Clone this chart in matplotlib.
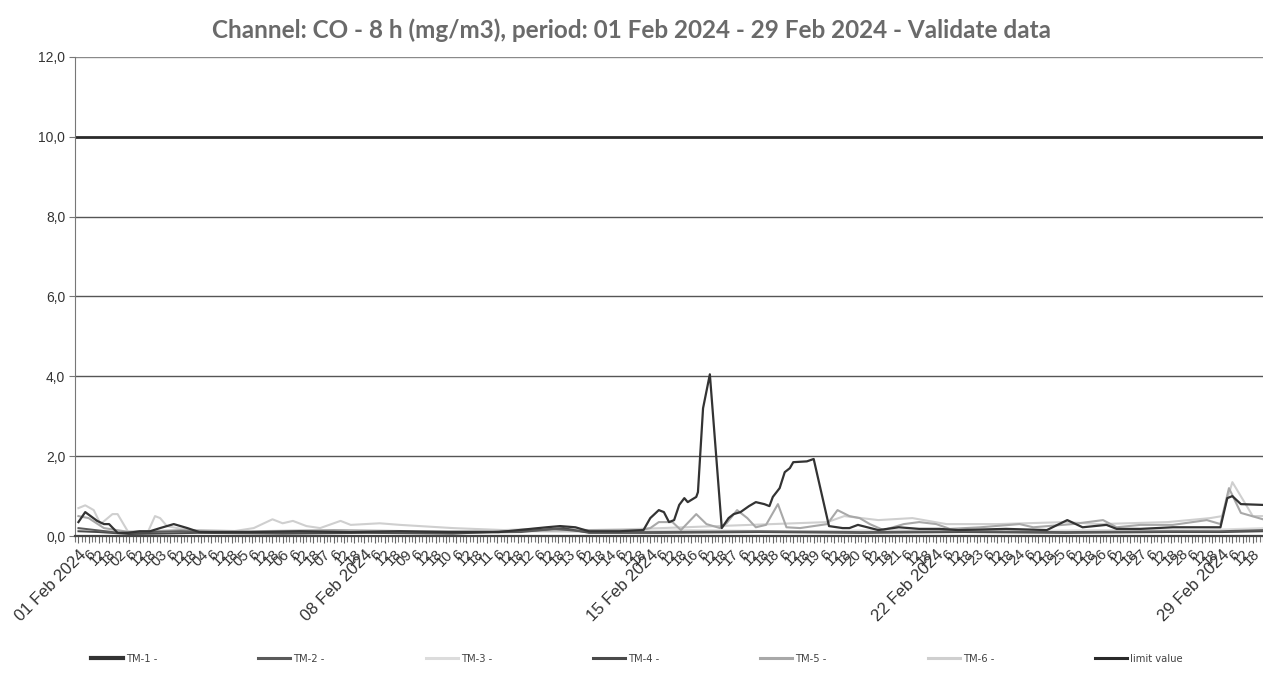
import matplotlib
matplotlib.use("Agg")
import matplotlib.pyplot as plt
from matplotlib.ticker import FixedLocator, MultipleLocator

title = "Channel: CO - 8 h (mg/m3), period: 01 Feb 2024 - 29 Feb 2024 - Validate data"

# hours since 01 Feb 2024 00:00
tm1_h = [0, 4, 11, 15, 18, 23, 29, 36, 42, 48, 56, 60, 64, 71, 101, 130, 160, 189, 218, 247,
         275, 283, 292, 300, 318, 332, 336, 341, 344, 347, 350, 353, 356, 358, 363, 364, 367,
         371, 378, 382, 385, 389, 394, 398, 403, 406, 408, 412, 415, 418, 420, 428, 432, 441,
         449, 453, 458, 470, 482, 494, 506, 517, 545, 569, 581, 590, 604, 610, 624, 643, 671,
         675, 678, 683, 696]
tm1_v = [0.35, 0.6, 0.38, 0.3, 0.3, 0.08, 0.08, 0.12, 0.12, 0.2, 0.3, 0.25, 0.2, 0.1, 0.1, 0.12,
         0.1, 0.12, 0.1, 0.1, 0.22, 0.25, 0.22, 0.12, 0.12, 0.15, 0.45, 0.65, 0.6, 0.35, 0.4,
         0.78, 0.95, 0.85, 0.98, 1.1, 3.2, 4.05, 0.2, 0.45, 0.55, 0.6, 0.75, 0.85, 0.8, 0.75,
         0.98, 1.2, 1.6, 1.7, 1.85, 1.87, 1.93, 0.25, 0.2, 0.2, 0.28, 0.15, 0.22, 0.18, 0.18,
         0.15, 0.18, 0.15, 0.4, 0.22, 0.28, 0.18, 0.18, 0.22, 0.22, 0.95, 1.0, 0.8, 0.78]

tm2_h = [0, 10, 24, 60, 100, 150, 200, 260, 280, 300, 336, 400, 460, 520, 580, 640, 670, 696]
tm2_v = [0.2, 0.15, 0.08, 0.12, 0.08, 0.1, 0.08, 0.1, 0.18, 0.1, 0.1, 0.12, 0.1, 0.12, 0.1, 0.12, 0.12, 0.15]

tm3_h = [0, 20, 60, 120, 180, 240, 300, 360, 420, 480, 540, 600, 660, 696]
tm3_v = [0.15, 0.12, 0.1, 0.12, 0.1, 0.12, 0.1, 0.15, 0.12, 0.15, 0.12, 0.15, 0.15, 0.2]

tm4_h = [0, 12, 30, 70, 120, 170, 220, 270, 285, 300, 340, 400, 460, 520, 580, 640, 672, 696]
tm4_v = [0.12, 0.1, 0.05, 0.08, 0.06, 0.08, 0.06, 0.15, 0.2, 0.08, 0.08, 0.1, 0.08, 0.1, 0.08, 0.1, 0.1, 0.12]

tm5_h = [0, 6, 15, 30, 60, 100, 150, 200, 250, 300, 330, 336, 341, 349, 354, 363, 369, 377,
         381, 387, 393, 398, 404, 411, 416, 424, 440, 446, 453, 459, 465, 473, 485, 494, 504,
         512, 530, 553, 561, 584, 602, 610, 624, 643, 663, 671, 676, 683, 696]
tm5_v = [0.5, 0.45, 0.2, 0.1, 0.15, 0.12, 0.15, 0.12, 0.12, 0.15, 0.15, 0.2, 0.35, 0.35, 0.15,
         0.55, 0.3, 0.2, 0.33, 0.65, 0.45, 0.22, 0.28, 0.8, 0.22, 0.2, 0.3, 0.65, 0.5, 0.45, 0.3,
         0.15, 0.3, 0.35, 0.3, 0.18, 0.22, 0.3, 0.22, 0.3, 0.4, 0.22, 0.28, 0.28, 0.4, 0.3, 1.2,
         0.58, 0.42]

tm6_h = [0, 4, 9, 13, 20, 23, 29, 41, 45, 48, 52, 58, 71, 91, 103, 114, 120, 126, 134, 142,
         154, 160, 177, 189, 220, 250, 280, 300, 330, 440, 450, 470, 490, 510, 540, 580, 600,
         640, 665, 672, 678, 690, 696]
tm6_v = [0.7, 0.77, 0.65, 0.3, 0.55, 0.55, 0.12, 0.12, 0.5, 0.45, 0.25, 0.2, 0.12, 0.12, 0.2,
         0.42, 0.32, 0.38, 0.25, 0.2, 0.38, 0.28, 0.32, 0.28, 0.2, 0.15, 0.2, 0.15, 0.18, 0.35,
         0.5, 0.4, 0.45, 0.3, 0.3, 0.35, 0.3, 0.35, 0.45, 0.5, 1.35, 0.5, 0.5]

limit_value = 10.0

series_names = ["TM-1 -", "TM-2 -", "TM-3 -", "TM-4 -", "TM-5 -", "TM-6 -"]
series_h = [tm1_h, tm2_h, tm3_h, tm4_h, tm5_h, tm6_h]
series_v = [tm1_v, tm2_v, tm3_v, tm4_v, tm5_v, tm6_v]
colors = ["#333333", "#5a5a5a", "#dcdcdc", "#4a4a4a", "#a8a8a8", "#cfcfcf"]
widths = [1.6, 1.4, 1.4, 1.4, 1.5, 1.5]
order = [2, 5, 4, 3, 1, 0]

date_ticks = [0, 168, 336, 504, 672]
date_labels = ["01 Feb 2024", "08 Feb 2024", "15 Feb 2024", "22 Feb 2024", "29 Feb 2024"]
y_ticks = [0, 2, 4, 6, 8, 10, 12]
y_labels = ["0,0", "2,0", "4,0", "6,0", "8,0", "10,0", "12,0"]

fig = plt.figure(figsize=(12.63, 6.76), dpi=100)
ax = fig.add_axes([0.0594, 0.207, 0.9406, 0.709])

for yv in [2, 4, 6, 8]:
    ax.axhline(yv, color="#555555", lw=1.0, zorder=1)
ax.axhline(12, color="#8a8a8a", lw=1.0, zorder=1)

handles = [None] * 6
for k, i in enumerate(order):
    ln, = ax.plot(series_h[i], series_v[i], color=colors[i], lw=widths[i], zorder=3 + k * 0.01)
    handles[i] = ln
hl = ax.axhline(limit_value, color="#2a2a2a", lw=2.0, zorder=2)

ax.set_xlim(-2, 696)
ax.set_ylim(0, 12)
ax.set_yticks(y_ticks)
ax.set_yticklabels(y_labels, fontsize=10, color="#333333", family="Liberation Sans")

# x tick labels: date every week, hours every 6 h
tick_pos = list(range(0, 692, 6))
tick_lab = []
for t in tick_pos:
    if t in date_ticks:
        tick_lab.append(date_labels[date_ticks.index(t)])
    else:
        hr = t % 24
        tick_lab.append(str(hr) if hr != 0 else "%02d" % (t // 24 + 1))
ax.xaxis.set_major_locator(FixedLocator(tick_pos))
ax.set_xticklabels(tick_lab, rotation=45, ha="right", rotation_mode="anchor",
                   fontsize=10.5, color="#333333", family="Liberation Sans")
for lbl in ax.get_xticklabels():
    if lbl.get_text() in date_labels:
        lbl.set_fontsize(12)
ax.xaxis.set_minor_locator(MultipleLocator(2))
ax.tick_params(axis="x", which="major", length=5, width=0.8, color="#666666", pad=3)
ax.tick_params(axis="x", which="minor", length=4, width=0.8, color="#777777")
ax.tick_params(axis="y", length=4, width=0.8, color="#777777", pad=3)

for s in ["top", "right"]:
    ax.spines[s].set_visible(False)
ax.spines["left"].set_color("#777777")
ax.spines["bottom"].set_color("#444444")
ax.spines["bottom"].set_linewidth(1.6)

fig.text(0.5, 0.955, title, ha="center", va="center", fontsize=17.5, color="#6a6a6a",
         family="Lato", weight="bold")

leg = fig.legend(handles + [hl], series_names + ["limit value"], loc="lower left",
                 bbox_to_anchor=(0.065, 0.005), ncol=7, frameon=False, fontsize=7.2,
                 handlelength=3.2, handletextpad=0.3, columnspacing=10.1)
for t in leg.get_texts():
    t.set_color("#444444")
for lh in leg.get_lines():
    lh.set_linewidth(2.2)
leg.get_lines()[0].set_linewidth(3)

fig.savefig("out.png", dpi=100, facecolor="white")
